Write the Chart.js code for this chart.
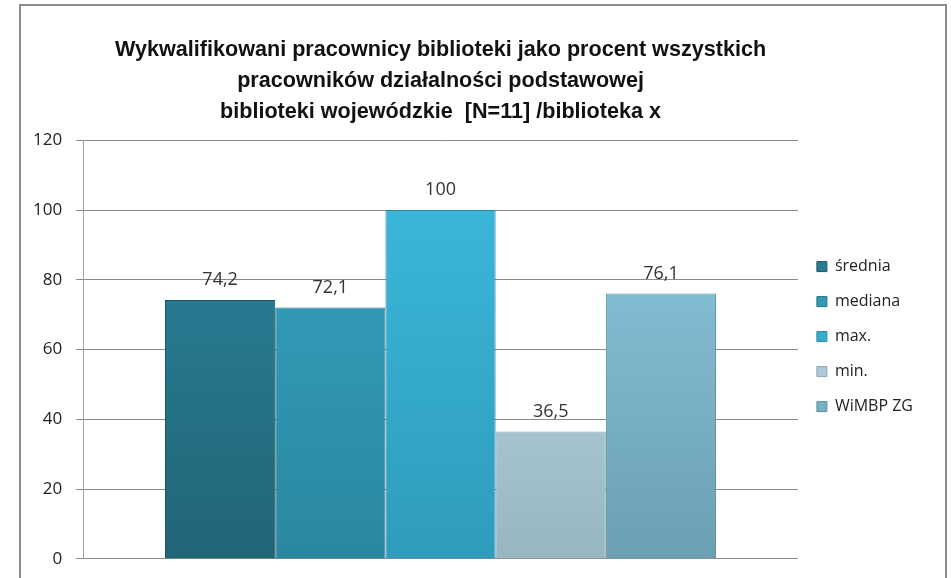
<!DOCTYPE html>
<html>
<head>
<meta charset="utf-8">
<script src="https://cdn.jsdelivr.net/npm/chart.js@4"></script>
<style>
  body { margin: 0; background: #fff; }
  #box { position: relative; width: 951px; height: 578px; overflow: hidden; }
  #ramka { position: absolute; left: 19px; top: 4px; width: 924px; height: 620px; border: 2px solid #8c8c8c; }
  #myChart { position: absolute; left: 0; top: 0; }
</style>
</head>
<body>
<div id="box">
  <div id="ramka"></div>
  <canvas id="myChart" width="951" height="578"></canvas>
</div>
<script>
const tytul = [
  "Wykwalifikowani pracownicy biblioteki jako procent wszystkich",
  "pracowników działalności podstawowej",
  "biblioteki wojewódzkie  [N=11] /biblioteka x"
]
const kategorie = [""]
const serie = ["średnia", "mediana", "max.", "min.", "WiMBP ZG"]
const wartosci = [74.2, 72.1, 100, 36.5, 76.1]
const yTicks = [0, 20, 40, 60, 80, 100, 120]

// kolory: gora / dol slupka
const koloryGora = ["#2b86a0", "#36a6c4", "#3cbbdf", "#c3e4f0", "#8fcde4"]
const koloryDol = ["#216577", "#2b879f", "#2f9cbc", "#98b6c2", "#6c9fb2"]
const krawedz = ["#1b5566", "#237589", "#2a88a3", "#8aa8b4", "#5f8fa1"]

function gradient(ctx, i) {
  const area = ctx.chart.chartArea
  if (!area) return koloryGora[i]
  const g = ctx.chart.ctx.createLinearGradient(0, area.top, 0, area.bottom)
  g.addColorStop(0, koloryGora[i])
  g.addColorStop(1, koloryDol[i])
  return g
}

const datasets = serie.map((nazwa, i) => {
  return {
    label: nazwa,
    data: [wartosci[i]],
    backgroundColor: (ctx) => gradient(ctx, i),
    borderColor: krawedz[i],
    borderWidth: 1,
    barPercentage: 1,
    categoryPercentage: 0.771,
  }
})

const etykiety = {
  id: "etykiety",
  afterDatasetsDraw(chart) {
    const c = chart.ctx
    c.save()
    c.font = "18px 'Open Sans', sans-serif"
    c.fillStyle = "#333"
    c.textAlign = "center"
    c.textBaseline = "middle"
    chart.data.datasets.forEach((ds, i) => {
      const el = chart.getDatasetMeta(i).data[0]
      c.fillText(String(ds.data[0]).replace(".", ","), el.x, el.y - 20)
    })
    c.restore()
  }
}

// legenda troche wyzej niz srodek wykresu
const przesunLegende = {
  id: "przesunLegende",
  afterLayout(chart) {
    chart.legend.top -= 13
    chart.legend.bottom -= 13
  }
}

const config = {
  type: "bar",
  data: { labels: kategorie, datasets },
  options: {
    responsive: false,
    animation: false,
    layout: { padding: { left: 19, right: 28, bottom: 0 } },
    plugins: {
      title: {
        display: true,
        fullSize: false,
        text: tytul,
        color: "#111",
        font: { family: "'Liberation Sans', Arial, sans-serif", size: 21.6, weight: "bold", lineHeight: 1.44 },
        padding: { top: 34, bottom: 13 },
      },
      legend: {
        position: "right",
        fullSize: false,
        labels: {
          boxWidth: 10,
          boxHeight: 10,
          padding: 19,
          color: "#222",
          font: { family: "'Open Sans', sans-serif", size: 16 },
        },
      },
      tooltip: { enabled: false },
    },
    scales: {
      x: {
        display: false,
      },
      y: {
        min: 0,
        max: 120,
        afterBuildTicks: (axis) => { axis.ticks = yTicks.map((v) => ({ value: v })) },
        ticks: { color: "#222", padding: 14, font: { family: "'Open Sans', sans-serif", size: 17, lineHeight: 0.6 } },
        grid: { color: "#8a8a8a", tickLength: 7 },
        border: { color: "#a0a0a0" },
      },
    },
  },
  plugins: [etykiety, przesunLegende],
}

new Chart(document.getElementById("myChart"), config)
</script>
</body>
</html>
